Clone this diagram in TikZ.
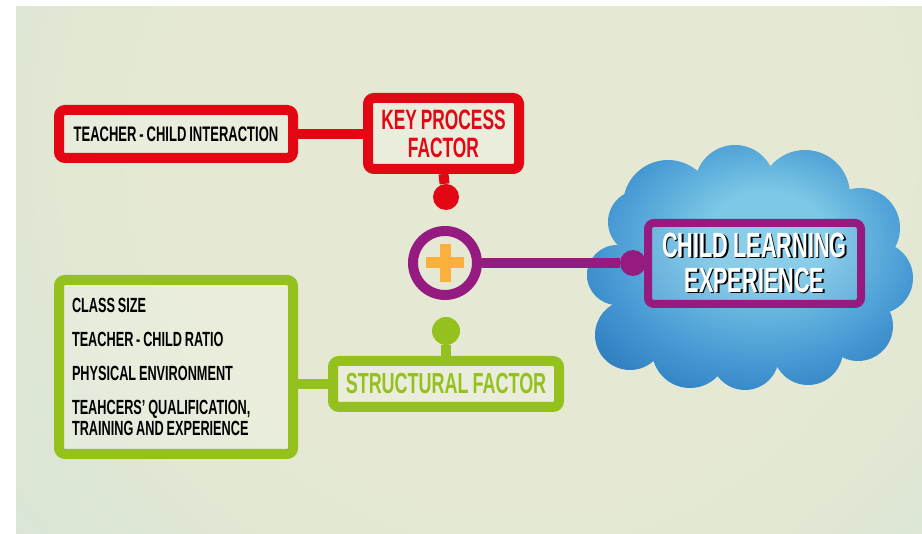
\documentclass[tikz,border=0pt]{standalone}
\usepackage{fontspec}
\usepackage{tikz}
\newfontfamily\factorfont{Liberation Sans}[FakeStretch=0.62,WordSpace=0.8]

\definecolor{keyred}{HTML}{E30613}
\definecolor{structgreen}{HTML}{95C11F}
\definecolor{plumpurple}{HTML}{951B81}
\definecolor{plusorange}{HTML}{FBB03B}
\definecolor{bgin}{HTML}{E5E9D3}
\definecolor{bgmid}{HTML}{D8E5D6}
\definecolor{bgedge}{HTML}{C6E0DA}
\definecolor{bgout}{HTML}{B8DEDE}
\definecolor{cloudin}{HTML}{7CC8E6}
\definecolor{cloudmid}{HTML}{4598D3}
\definecolor{cloudout}{HTML}{1B66B0}
\pgfdeclareradialshading{bgshade}{\pgfpoint{0bp}{0bp}}{color(0bp)=(bgin); color(14bp)=(bgin); color(26bp)=(bgmid); color(36bp)=(bgedge); color(46bp)=(bgout); color(50bp)=(bgout)}
\pgfdeclareradialshading{cloudshade}{\pgfpoint{3bp}{8bp}}{color(0bp)=(cloudin); color(9bp)=(cloudin); color(24bp)=(cloudmid); color(40bp)=(cloudout); color(50bp)=(cloudout)}
\newcommand\shadowed[1]{\makebox[0pt][l]{\kern1.6pt\raisebox{-1.6pt}{\textcolor{black}{#1}}}#1}

\begin{document}
\begin{tikzpicture}[x=1pt,y=-1pt,
  box/.style={rounded corners=6pt,line width=10pt,fill=white,fill opacity=0.2,text opacity=1,inner sep=0pt,align=center},
  dot/.style={circle,fill=#1,inner sep=0pt,minimum size=26},
  link/.style={line width=10pt,draw=#1}]
\useasboundingbox (0,0) rectangle (922,534);
% baggrund
\begin{scope}
\clip (16,7) rectangle (922,534);
\shade[shading=bgshade] (-120,-490) rectangle (1160,790);
\end{scope}
% sky
\shade[shading=cloudshade] (750,272) ellipse[x radius=125,y radius=88]
  (668,205) circle[radius=45] (735,185) circle[radius=40] (805,195) circle[radius=45]
  (860,228) circle[radius=40] (877,278) circle[radius=36] (858,326) circle[radius=35]
  (808,350) circle[radius=35] (745,356) circle[radius=34] (690,350) circle[radius=38]
  (630,335) circle[radius=35] (617,275) circle[radius=30] (640,222) circle[radius=32];

% boksene
\node[box,draw=keyred,minimum width=234,minimum height=48,
  font={\factorfont\bfseries\fontsize{21}{21}\selectfont}] (teacher) at (176,134) {TEACHER - CHILD INTERACTION};
\node[box,draw=keyred,text=keyred,minimum width=151,minimum height=71,
  font={\factorfont\bfseries\fontsize{28}{28}\selectfont}] (keyfactor) at (443.5,133.5) {KEY PROCESS\\FACTOR};
\node[box,draw=structgreen,text=structgreen,minimum width=226,minimum height=46,
  font={\factorfont\bfseries\fontsize{29}{29}\selectfont}] (structural) at (446,384) {STRUCTURAL FACTOR};
\node[box,draw=structgreen,minimum width=234,minimum height=174,align=flush left,text width=208,
  font={\factorfont\bfseries\fontsize{20.5}{21}\selectfont}] (factors) at (176,367)
  {CLASS SIZE\\[13pt] TEACHER - CHILD RATIO\\[13pt] PHYSICAL ENVIRONMENT\\[13pt] TEAHCERS’ QUALIFICATION,\\ TRAINING AND EXPERIENCE};

% child learning experience
\node[box,draw=plumpurple,line width=8pt,fill opacity=0.1,text=white,minimum width=213,minimum height=81,
  font={\factorfont\bfseries\fontsize{35}{35}\selectfont}] (child) at (754.5,263.5)
  {\shadowed{CHILD LEARNING}\\\shadowed{EXPERIENCE}};

% plus og prikker
\node[circle,draw=plumpurple,line width=10pt,minimum size=64,inner sep=0pt] (plus) at (445,263) {};
\draw[plusorange,line width=11pt] ([xshift=-19pt]plus.center) -- ([xshift=19pt]plus.center);
\draw[plusorange,line width=11pt] ([yshift=-19pt]plus.center) -- ([yshift=19pt]plus.center);
\node[dot=keyred] (keydot) at (446,197) {};
\node[dot=structgreen,minimum size=28] (structdot) at (446,331) {};
\node[dot=plumpurple] (childdot) at (633,263) {};

% forbindelser
\draw[link=keyred] (teacher.east) -- (teacher.east -| keyfactor.west);
\draw[link=keyred] (keyfactor.south) -- (keydot);
\draw[link=structgreen] (structdot) -- (structural.north);
\draw[link=structgreen] (factors.east |- structural.west) -- (structural.west);
\draw[link=plumpurple] (plus) -- (childdot);
\end{tikzpicture}
\end{document}
